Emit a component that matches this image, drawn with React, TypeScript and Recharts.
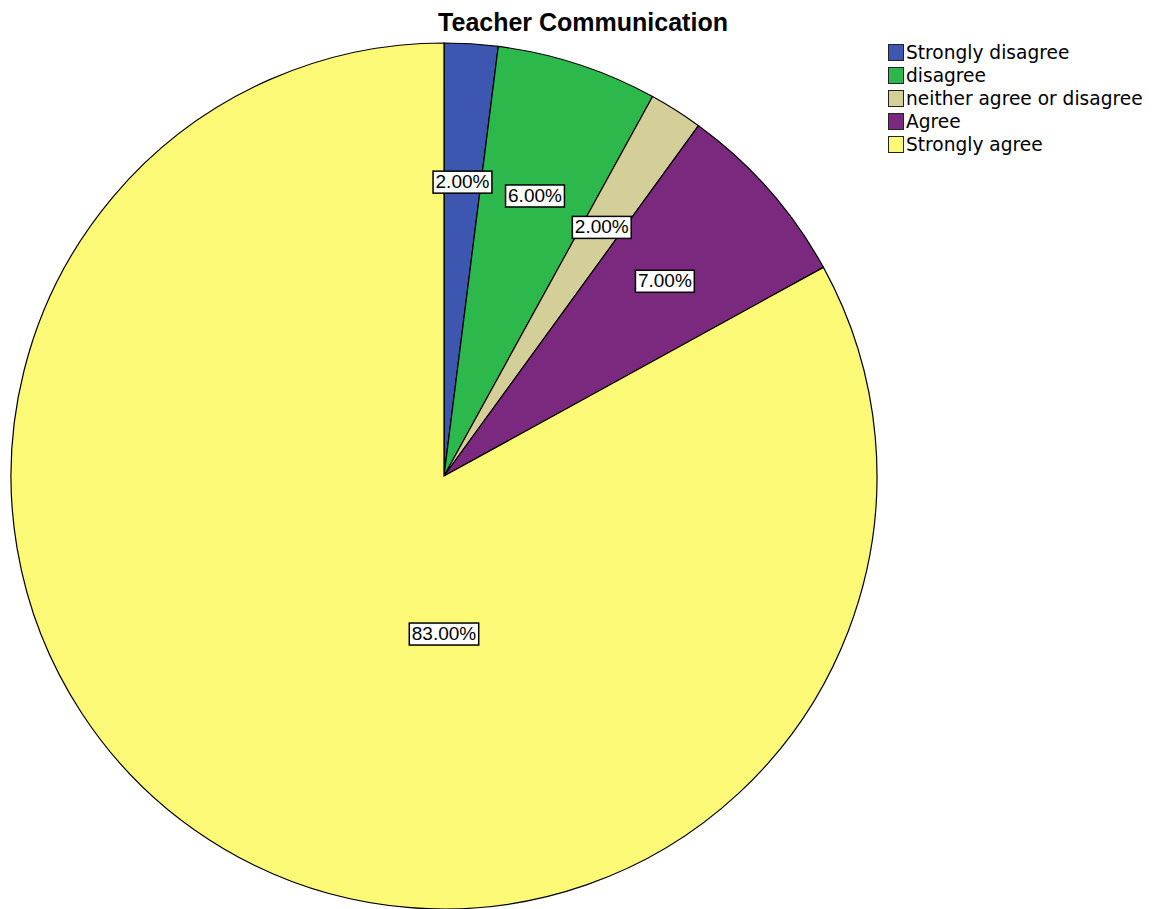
import React from 'react';
import { PieChart, Pie, Cell } from 'recharts';

const categories = ['Strongly disagree', 'disagree', 'neither agree or disagree', 'Agree', 'Strongly agree'];
const percents = [2, 6, 2, 7, 83];
const colors = ['#3D56B0', '#2DB84B', '#D4CF98', '#7B287F', '#FCF977'];
const title = 'Teacher Communication';

const data = categories.map((name, i) => ({ name, value: percents[i] }));

const RAD = Math.PI / 180;
const LABEL_FS = 19;
const charW = (c: string) => (c === '.' ? 0.278 : c === '%' ? 0.889 : 0.556);

const renderLabel = (props: any) => {
  const { cx, cy, midAngle, outerRadius, percent, value } = props;
  let x: number;
  let y: number;
  if (percent > 0.5) {
    x = cx;
    y = cy + outerRadius * 0.365;
  } else {
    const r = outerRadius * 0.68;
    x = cx + r * Math.cos(-midAngle * RAD);
    y = cy + r * Math.sin(-midAngle * RAD);
  }
  const text = `${Number(value).toFixed(2)}%`;
  const w = text.split('').reduce((s, c) => s + charW(c), 0) * LABEL_FS + 5;
  const h = 22;
  return (
    <g>
      <rect x={x - w / 2} y={y - h / 2} width={w} height={h} fill="#ffffff" stroke="#000000" strokeWidth={1.5} />
      <text
        x={x}
        y={y + 1}
        textAnchor="middle"
        dominantBaseline="middle"
        fontFamily="'Liberation Sans', Arial, sans-serif"
        fontSize={LABEL_FS}
        fill="#000000"
      >
        {text}
      </text>
    </g>
  );
};

const LegendBox = () => (
  <div
    style={{
      position: 'absolute',
      left: 888,
      top: 41,
      fontFamily: "'DejaVu Sans', Verdana, sans-serif",
      fontSize: 18.6,
      color: '#000',
    }}
  >
    {categories.map((c, i) => (
      <div key={c} style={{ display: 'flex', alignItems: 'center', height: 23, whiteSpace: 'nowrap' }}>
        <span
          style={{
            display: 'inline-block',
            width: 14,
            height: 15,
            background: colors[i],
            border: '1.5px solid #222',
            marginRight: 2,
          }}
        />
        <span style={{ lineHeight: '23px' }}>{c}</span>
      </div>
    ))}
  </div>
);

export default function App() {
  return (
    <div style={{ position: 'absolute', left: 0, top: 0, width: 1154, height: 909, background: '#fff' }}>
      <PieChart width={1154} height={909} margin={{ top: 0, right: 0, bottom: 0, left: 0 }}>
        <Pie
          data={data}
          dataKey="value"
          nameKey="name"
          cx={444}
          cy={476}
          outerRadius={433}
          startAngle={90}
          endAngle={-270}
          stroke="#000000"
          strokeWidth={1.2}
          label={renderLabel}
          labelLine={false}
          isAnimationActive={false}
        >
          {data.map((d, i) => (
            <Cell key={d.name} fill={colors[i]} />
          ))}
        </Pie>
      </PieChart>
      <div
        style={{
          position: 'absolute',
          left: 0,
          top: 7,
          width: 1166,
          textAlign: 'center',
          fontFamily: "'Liberation Sans', Arial, sans-serif",
          fontWeight: 'bold',
          fontSize: 25,
          lineHeight: '30px',
          color: '#000',
        }}
      >
        {title}
      </div>
      <LegendBox />
    </div>
  );
}
